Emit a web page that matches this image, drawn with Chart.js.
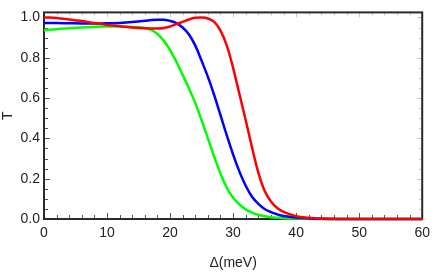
<!DOCTYPE html>
<html>
<head>
<meta charset="utf-8">
<script src="https://cdn.jsdelivr.net/npm/chart.js@4"></script>
<style>
  html, body { margin: 0; padding: 0; background: #fff; }
  #wrap { width: 436px; height: 273px; }
</style>
</head>
<body>
<div id="wrap"><canvas id="c"></canvas></div>
<script>
// detuning values (meV)
const delta = [0, 2, 4, 6, 8, 10, 12, 14, 16, 17, 18, 19, 20, 21, 22, 23, 24, 25, 26, 27, 28, 29, 30, 31, 32, 33, 34, 35, 36, 37, 38, 40, 42, 44, 46, 48, 50, 55, 60]

// transmission curves
const redT   = [1.000, 0.997, 0.990, 0.982, 0.972, 0.963, 0.956, 0.950, 0.946, 0.945, 0.945, 0.948, 0.955, 0.967, 0.978, 0.990, 0.998, 1.000, 0.995, 0.978, 0.935, 0.860, 0.750, 0.620, 0.490, 0.355, 0.230, 0.140, 0.087, 0.055, 0.035, 0.014, 0.006, 0.002, 0.001, 0, 0, 0, 0]
const blueT  = [0.972, 0.972, 0.971, 0.970, 0.970, 0.971, 0.973, 0.977, 0.983, 0.987, 0.989, 0.988, 0.983, 0.972, 0.950, 0.915, 0.860, 0.785, 0.705, 0.615, 0.515, 0.415, 0.320, 0.235, 0.165, 0.110, 0.075, 0.050, 0.034, 0.023, 0.015, 0.007, 0.003, 0.001, 0, 0, 0, 0, 0]
const greenT = [0.937, 0.942, 0.946, 0.950, 0.953, 0.955, 0.955, 0.953, 0.948, 0.938, 0.918, 0.885, 0.838, 0.780, 0.715, 0.648, 0.575, 0.490, 0.400, 0.310, 0.225, 0.155, 0.105, 0.072, 0.048, 0.032, 0.021, 0.014, 0.009, 0.006, 0.004, 0.002, 0.001, 0, 0, 0, 0, 0, 0]

const xTicks = [0, 10, 20, 30, 40, 50, 60]
const yTicks = [0, 0.2, 0.4, 0.6, 0.8, 1.0]

const FONT = "'Liberation Sans', Arial, sans-serif"

function pts(ys){
    return delta.map((d, i) => ({x: d, y: ys[i]}))
}

// frame + inward ticks, Mathematica style
const framePlugin = {
    id: 'frame',
    beforeDatasetsDraw(chart){
        const {ctx, chartArea: a, scales: {x, y}} = chart
        ctx.save()
        // light ticks on top and right
        ctx.strokeStyle = '#c8c8c8'
        ctx.lineWidth = 1
        for (let v = 0; v <= 60; v += 2){
            const px = Math.round(x.getPixelForValue(v)) + 0.5
            const len = v % 10 === 0 ? 5 : 3
            ctx.beginPath(); ctx.moveTo(px, a.top); ctx.lineTo(px, a.top + len); ctx.stroke()
        }
        for (let k = 0; k <= 20; k++){
            const py = Math.round(y.getPixelForValue(k * 0.05)) + 0.5
            const len = k % 4 === 0 ? 5 : 3
            ctx.beginPath(); ctx.moveTo(a.right, py); ctx.lineTo(a.right - len, py); ctx.stroke()
        }
        // dark ticks on bottom and left
        ctx.strokeStyle = '#555'
        for (let v = 0; v <= 60; v += 2){
            const px = Math.round(x.getPixelForValue(v)) + 0.5
            const len = v % 10 === 0 ? 6 : 4
            ctx.beginPath(); ctx.moveTo(px, a.bottom); ctx.lineTo(px, a.bottom - len); ctx.stroke()
        }
        for (let k = 0; k <= 20; k++){
            const py = Math.round(y.getPixelForValue(k * 0.05)) + 0.5
            const len = k % 4 === 0 ? 6 : 4
            ctx.beginPath(); ctx.moveTo(a.left, py); ctx.lineTo(a.left + len, py); ctx.stroke()
        }
        // frame
        ctx.strokeStyle = '#2a2a2a'
        ctx.lineWidth = 2
        ctx.strokeRect(a.left, a.top, a.right - a.left, a.bottom - a.top)
        ctx.restore()
    }
}

const lineStyle = {
    borderWidth: 2.5,
    pointRadius: 0,
    fill: false,
    tension: 0.4,
    clip: 4
}

new Chart(document.getElementById('c'), {
    type: 'line',
    data: {
        datasets: [
            {label: 'red', data: pts(redT), borderColor: '#ff0000', ...lineStyle},
            {label: 'blue', data: pts(blueT), borderColor: '#0000ff', ...lineStyle},
            {label: 'green', data: pts(greenT), borderColor: '#00ff00', ...lineStyle}
        ]
    },
    options: {
        responsive: true,
        maintainAspectRatio: false,
        animation: false,
        layout: { padding: {top: 5, right: 9, left: 0, bottom: 0} },
        plugins: { legend: {display: false}, tooltip: {enabled: false} },
        scales: {
            x: {
                type: 'linear',
                min: 0, max: 60,
                afterFit: s => { s.height = 54 },
                afterBuildTicks: s => { s.ticks = xTicks.map(v => ({value: v})) },
                grid: { display: false, drawTicks: false },
                border: { display: false },
                ticks: {
                    padding: 6,
                    color: '#222',
                    font: {family: FONT, size: 14},
                    callback: v => String(v)
                },
                title: {
                    display: true,
                    text: 'Δ(meV)',
                    color: '#222',
                    font: {family: FONT, size: 14},
                    padding: {top: 0, bottom: 1}
                }
            },
            y: {
                min: 0, max: 1.025,
                afterFit: s => { s.width = 44 },
                afterBuildTicks: s => { s.ticks = yTicks.map(v => ({value: v})) },
                grid: { display: false, drawTicks: false },
                border: { display: false },
                ticks: {
                    padding: 4,
                    color: '#222',
                    font: {family: FONT, size: 14},
                    callback: v => Number(v).toFixed(1)
                },
                title: {
                    display: true,
                    text: 'T',
                    color: '#222',
                    font: {family: FONT, size: 14},
                    padding: {top: 0, bottom: 0}
                }
            }
        }
    },
    plugins: [framePlugin]
})
</script>
</body>
</html>
